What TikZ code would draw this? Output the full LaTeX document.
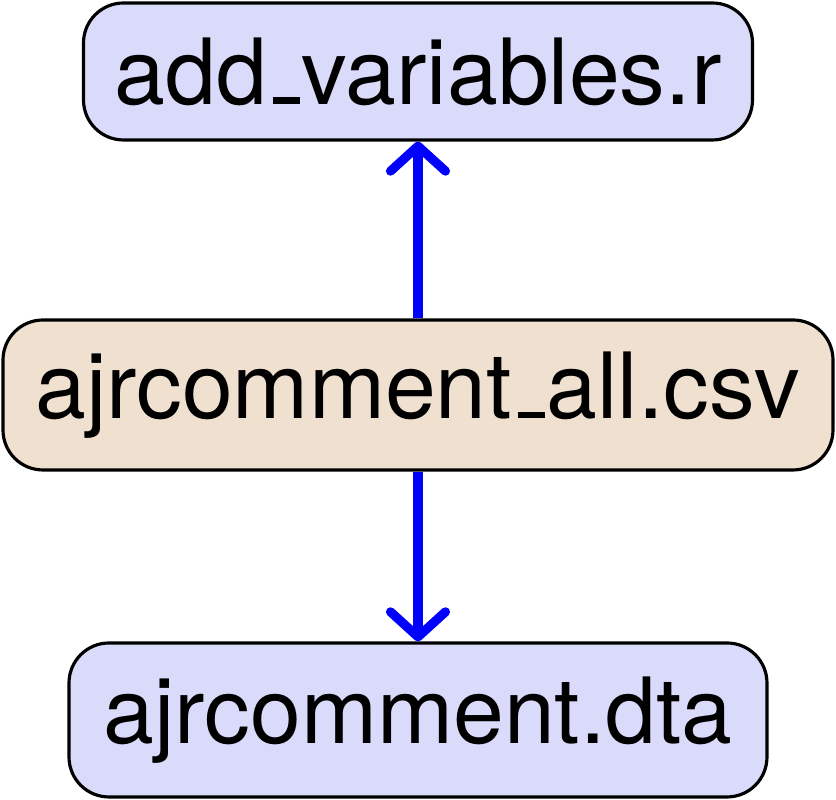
\documentclass[tikz,border=0pt]{standalone}
\usepackage{fontspec}
\setmainfont{TeX Gyre Heros}
\usetikzlibrary{arrows.meta}
\definecolor{filelav}{HTML}{DADAFA}
\definecolor{filetan}{HTML}{F0E0D0}
\definecolor{flowblue}{HTML}{0000FF}
% short underscore, as a rule
\newcommand{\fileus}{\kern.06em\vbox{\hrule width.3em height 1.9pt}\kern.02em}
\newcommand{\filebox}[6]{%
  \node[draw=black, line width=0.9pt, rounded corners=4mm, fill=#5,
        minimum width=#3cm, minimum height=#4cm, inner sep=0pt,
        text=black] (#1) at (4.18,#2) {#6};}

\begin{document}
\begin{tikzpicture}[font=\fontsize{26}{31}\selectfont]
      \useasboundingbox (0,0) rectangle (8.36,8);
      \filebox{script}{7.285}{6.69}{1.37}{filelav}{add\fileus variables.r}
      \filebox{csv}{4.05}{8.30}{1.50}{filetan}{ajrcomment\fileus all.csv}
      \filebox{dta}{0.80}{6.98}{1.54}{filelav}{ajrcomment.dta}
      \draw[-{Straight Barb[length=2.5mm, width=5.5mm, round]}, flowblue, line width=2.6pt] (csv) -- (script);
      \draw[-{Straight Barb[length=2.5mm, width=5.5mm, round]}, flowblue, line width=2.6pt] (csv) -- (dta);
    \end{tikzpicture}
\end{document}
